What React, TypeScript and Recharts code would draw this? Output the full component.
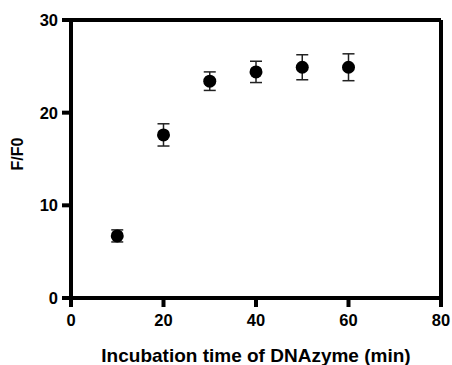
import { ScatterChart, Scatter, XAxis, YAxis, ErrorBar, ReferenceLine } from 'recharts';

const times = [10, 20, 30, 40, 50, 60];
const ratios = [6.7, 17.6, 23.4, 24.4, 24.9, 24.9];
const errors = [0.65, 1.2, 1.0, 1.15, 1.35, 1.45];

const xTicks = [0, 20, 40, 60, 80];
const yTicks = [0, 10, 20, 30];

const data = times.map((t, i) => ({ time: t, ratio: ratios[i], err: errors[i] }));

const font = '"Liberation Sans", Arial, sans-serif';
const tickStyle = { fill: '#000', stroke: 'none', fontSize: 16.5, fontWeight: 700, fontFamily: font };
const line = { stroke: '#000', strokeWidth: 4 };

const Dot = (props: any) => <circle cx={props.cx} cy={props.cy} r={6.5} fill="#000" />;

export default function App() {
  return (
    <div style={{ position: 'absolute', left: 0, top: 0, background: '#fff' }}>
      <ScatterChart width={452} height={365} margin={{ top: 20, right: 11, left: 0, bottom: 0 }}>
        <XAxis
          type="number"
          dataKey="time"
          domain={[0, 80]}
          ticks={xTicks}
          height={67}
          stroke="#000"
          axisLine={line}
          tickLine={line}
          tickSize={9}
          tickMargin={7}
          tick={tickStyle}
          label={{
            value: 'Incubation time of DNAzyme (min)',
            position: 'insideBottom',
            offset: 3,
            style: { fill: '#000', stroke: 'none', fontSize: 19, fontWeight: 700, fontFamily: font },
          }}
        />
        <YAxis
          type="number"
          dataKey="ratio"
          domain={[0, 30]}
          ticks={yTicks}
          width={71}
          stroke="#000"
          axisLine={line}
          tickLine={line}
          tickSize={9}
          tickMargin={4}
          tick={tickStyle}
          label={{
            value: 'F/F0',
            angle: -90,
            position: 'insideLeft',
            offset: 17,
            dy: -5,
            style: { fill: '#000', stroke: 'none', fontSize: 16, fontWeight: 700, fontFamily: font, textAnchor: 'middle' },
          }}
        />
        <ReferenceLine y={30} stroke="#000" strokeWidth={4} ifOverflow="visible" />
        <ReferenceLine x={80} stroke="#000" strokeWidth={4} ifOverflow="visible" />
        <Scatter data={data} shape={Dot} isAnimationActive={false}>
          <ErrorBar dataKey="err" direction="y" width={6} stroke="#222" strokeWidth={1.5} />
        </Scatter>
      </ScatterChart>
    </div>
  );
}
